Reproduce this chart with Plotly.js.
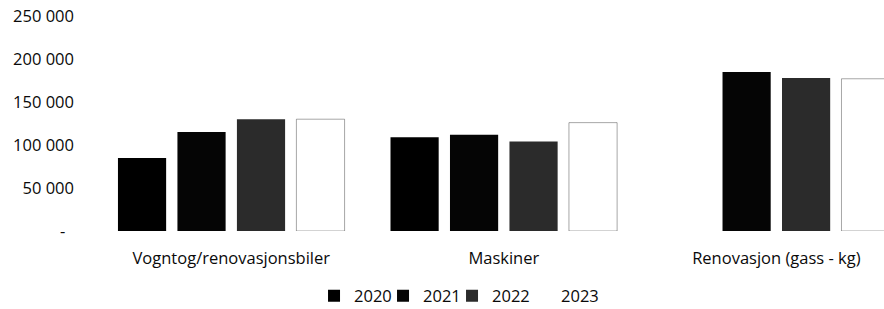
<!DOCTYPE html>
<html>
<head>
<meta charset="utf-8">
<script src="https://cdn.plot.ly/plotly-3.0.1.min.js"></script>
<style>
  html, body { margin: 0; padding: 0; background: #fff; }
  #chart { width: 884px; height: 309px; }
</style>
</head>
<body>
<div id="chart"></div>
<script>
// Categories and series values
const categories = ['Vogntog/renovasjonsbiler', 'Maskiner', 'Renovasjon (gass - kg)'];
const years = ['2020', '2021', '2022', '2023'];
const values2020 = [85000, 109000, null];
const values2021 = [115000, 112000, 185000];
const values2022 = [130000, 104000, 178000];
const values2023 = [130000, 126000, 177000];

const yTickVals = [0, 50000, 100000, 150000, 200000, 250000];
const yTickText = ['-\u00a0\u00a0', '50 000', '100 000', '150 000', '200 000', '250 000'];

const seriesValues = [values2020, values2021, values2022, values2023];
const seriesColors = ['#000000', '#050505', '#2b2b2b', '#ffffff'];
const seriesLines = [
  {width: 0},
  {width: 0},
  {width: 0},
  {width: 1, color: 'rgba(0,0,0,0.35)'}
];

const traces = years.map((y, i) => ({
  type: 'bar',
  name: y,
  x: categories,
  y: seriesValues[i],
  marker: {color: seriesColors[i], line: seriesLines[i]},
  showlegend: i < 3,
  legendgroup: y,
  hoverinfo: 'x+y+name'
}));

// Legend entry for 2023: its swatch is invisible in the reference
traces.push({
  type: 'scatter', mode: 'markers', name: years[3], legendgroup: years[3],
  x: [null], y: [null],
  marker: {color: 'rgba(0,0,0,0)', size: 10},
  showlegend: true, hoverinfo: 'skip'
});
// Spacer so the last legend text is not clipped
traces.push({
  type: 'scatter', mode: 'markers', name: '\u00a0',
  x: [null], y: [null],
  marker: {color: 'rgba(0,0,0,0)', size: 10},
  showlegend: true, hoverinfo: 'skip'
});

const font = {family: '"Open Sans", sans-serif', size: 16.5, color: '#0a0a0a'};

const layout = {
  width: 884,
  height: 309,
  margin: {l: 95, r: 0, t: 16, b: 78, pad: 0, autoexpand: false},
  paper_bgcolor: '#ffffff',
  plot_bgcolor: '#ffffff',
  font: font,
  barmode: 'group',
  bargap: 0.127,
  bargroupgap: 0.19,
  showlegend: true,
  legend: {
    orientation: 'h',
    x: 0.2776,
    xanchor: 'left',
    y: -0.302,
    yanchor: 'middle',
    font: font,
    entrywidth: 24,
    entrywidthmode: 'pixels',
    traceorder: 'normal',
    bgcolor: 'rgba(0,0,0,0)'
  },
  xaxis: {
    type: 'category',
    range: [-0.5, 2.395],
    showgrid: false,
    zeroline: false,
    showline: false,
    ticks: '',
    ticklabelstandoff: 15,
    tickfont: font,
    fixedrange: true,
    automargin: false
  },
  yaxis: {
    range: [0, 250000],
    tickmode: 'array',
    tickvals: yTickVals,
    ticktext: yTickText,
    showgrid: false,
    zeroline: false,
    showline: false,
    ticks: '',
    ticklabelstandoff: 20,
    tickfont: font,
    fixedrange: true,
    automargin: false
  }
};

Plotly.newPlot('chart', traces, layout, {displayModeBar: false, staticPlot: true});
</script>
</body>
</html>
